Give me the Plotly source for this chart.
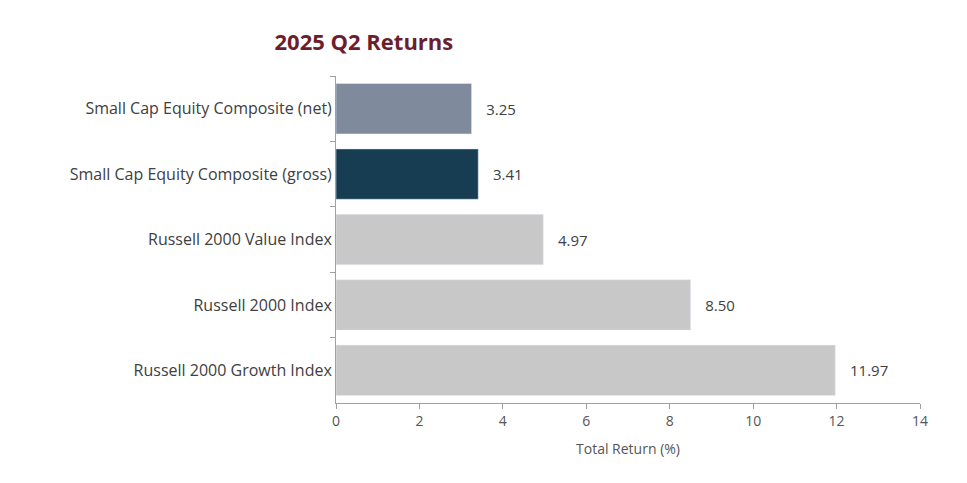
import plotly.graph_objects as go

categories = ["Small Cap Equity Composite (net)", "Small Cap Equity Composite (gross)",
              "Russell 2000 Value Index", "Russell 2000 Index", "Russell 2000 Growth Index"]
returns = [3.25, 3.41, 4.97, 8.50, 11.97]
colors = ["#7f8a9c", "#173d53", "#c8c8c8", "#c8c8c8", "#c8c8c8"]
labels = ["%.2f" % v for v in returns]

fig = go.Figure(go.Bar(
    x=returns, y=categories, orientation="h",
    marker=dict(color=colors),
    text=["   " + t for t in labels], textposition="outside",
    textfont=dict(size=15, color="#404040"),
    cliponaxis=False,
))

fig.update_layout(
    width=967, height=483,
    margin=dict(l=328, r=55, t=68, b=88),
    plot_bgcolor="white", paper_bgcolor="white",
    font=dict(family="Open Sans, sans-serif", color="#404040"),
    bargap=0.23,
    title=dict(text="<b>2025 Q2 Returns</b>", x=0.368, xanchor="center", y=0.945,
               font=dict(size=22, color="#6b1e2e")),
    xaxis=dict(range=[0, 14], dtick=2, showgrid=False, showline=True, linecolor="#a0a0a0",
               ticks="outside", ticklen=5, tickcolor="#a0a0a0",
               tickfont=dict(size=14, color="#555555"),
               title=dict(text="Total Return (%)", font=dict(size=14, color="#555555"))),
    yaxis=dict(autorange="reversed", showgrid=False, showline=True, linecolor="#a0a0a0",
               ticks="outside", ticklen=5, tickcolor="#a0a0a0", tickson="boundaries",
               tickfont=dict(size=16, color="#404040")),
)
fig.write_html("out.html")
